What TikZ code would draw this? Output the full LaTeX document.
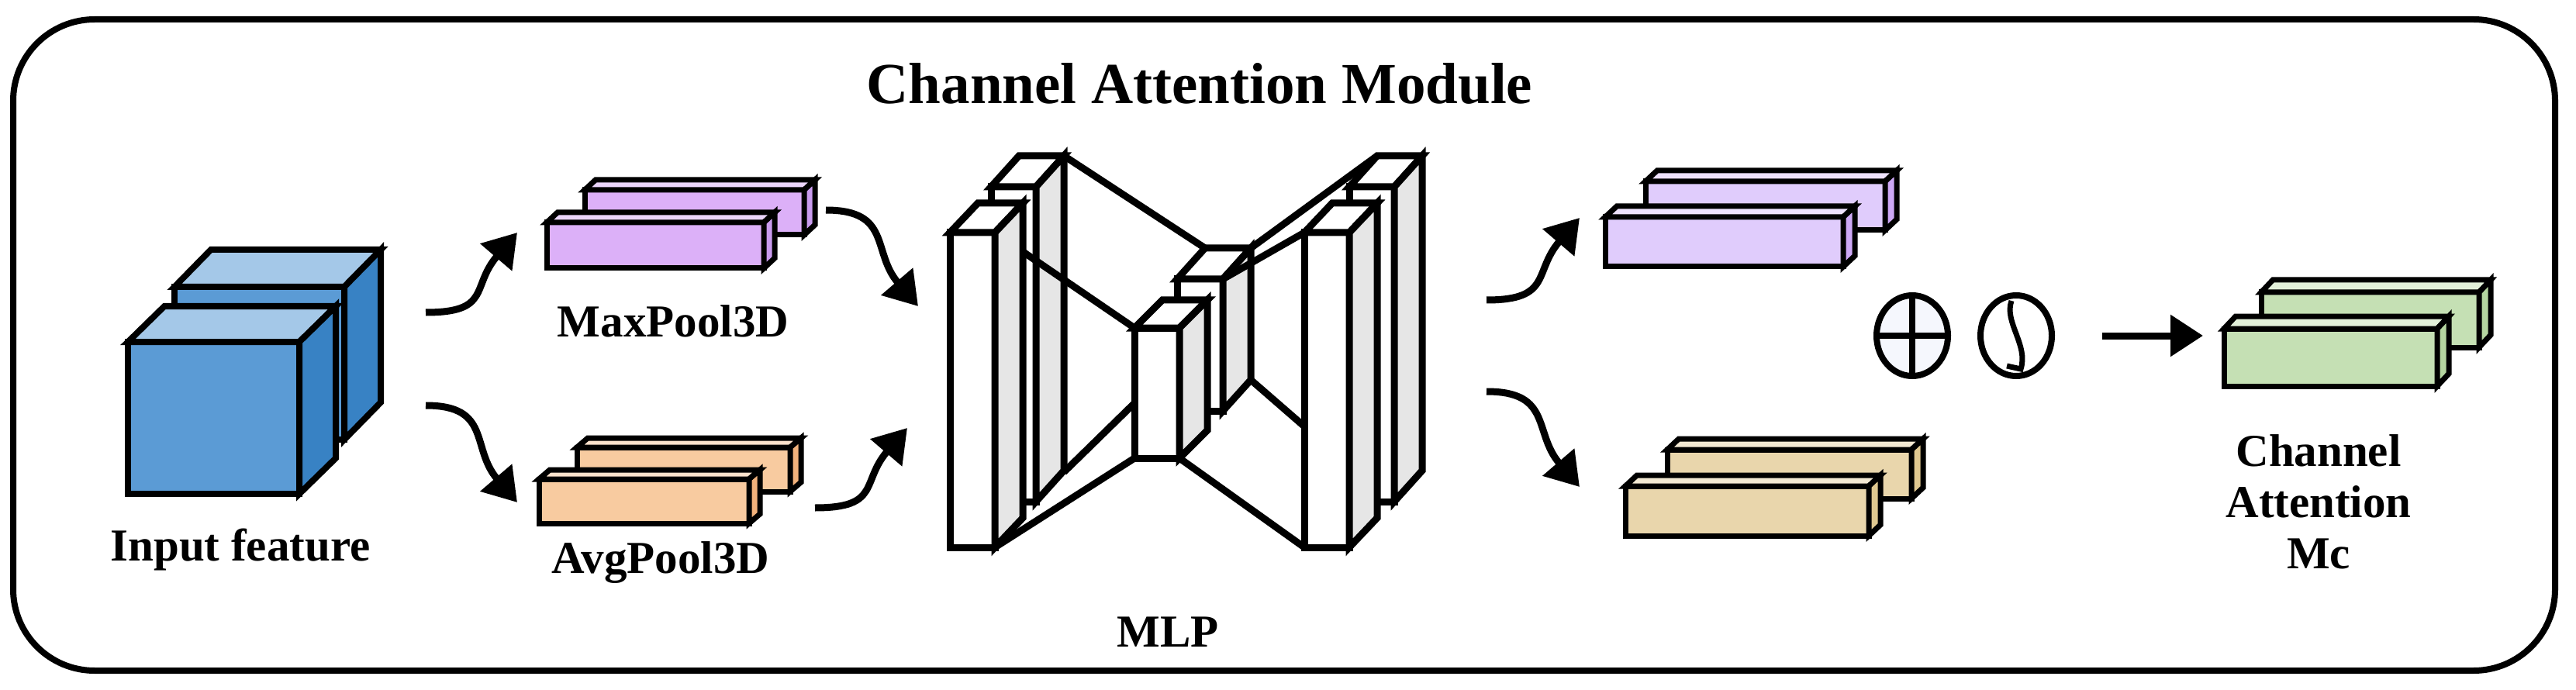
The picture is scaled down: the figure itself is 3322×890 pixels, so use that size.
\documentclass[tikz,border=0pt]{standalone}
\usepackage{fontspec}
\setmainfont{Liberation Serif}
\usetikzlibrary{arrows.meta,shapes.geometric}
\definecolor{cubeF}{HTML}{5B9BD5}\definecolor{cubeT}{HTML}{A4C8E8}\definecolor{cubeS}{HTML}{3882C4}
\definecolor{mxF}{HTML}{DCB0F8}\definecolor{mxT}{HTML}{EBD5FB}\definecolor{mxS}{HTML}{C99BEE}
\definecolor{avF}{HTML}{F8CBA0}\definecolor{avT}{HTML}{FBE2CC}\definecolor{avS}{HTML}{F2B27C}
\definecolor{lpF}{HTML}{E0CCFC}\definecolor{lpT}{HTML}{EEE2FD}\definecolor{lpS}{HTML}{CDA8F5}
\definecolor{tnF}{HTML}{E9D6AC}\definecolor{tnT}{HTML}{F3E9D3}\definecolor{tnS}{HTML}{E0C890}
\definecolor{grF}{HTML}{C5E0B4}\definecolor{grT}{HTML}{E2F0D9}\definecolor{grS}{HTML}{B5D6A0}
\definecolor{slS}{HTML}{E6E6E6}\definecolor{opF}{HTML}{F5F7FD}
% #1 x, #2 y (front top-left), #3 w, #4 h, #5 dx, #6 dy, #7 front, #8 top, #9 side
\newcommand\mybox[9]{%
  \filldraw[fill=#7] (#1,#2) rectangle ({#1+#3},{#2+#4});
  \filldraw[fill=#8] (#1,#2) -- ({#1+#5},{#2-#6}) -- ({#1+#3+#5},{#2-#6}) -- ({#1+#3},#2) -- cycle;
  \filldraw[fill=#9] ({#1+#3},#2) -- ({#1+#3+#5},{#2-#6}) -- ({#1+#3+#5},{#2+#4-#6}) -- ({#1+#3},{#2+#4}) -- cycle;}
\begin{document}
\begin{tikzpicture}[x=1pt,y=-1pt,line join=miter,
  lbl/.style={font=\fontsize{59}{66}\selectfont\bfseries,align=center},
  wav/.style={line width=9pt,-{Triangle[length=42pt,width=52pt]}},
  op/.style={draw,line width=8pt,ellipse,minimum width=92pt,minimum height=104pt,inner sep=0pt}]
\useasboundingbox (0,0) rectangle (3322,890);
\draw[line width=8pt,rounded corners=105pt] (17,25) rectangle (3295,865);
\node[font=\fontsize{75}{85}\selectfont\bfseries] (title) at (1547,108) {Channel Attention Module};
% input cubes
\begin{scope}[line width=8pt]
\mybox{225}{370}{219}{197}{47}{48}{cubeF}{cubeT}{cubeS}
\mybox{165}{441}{221}{196}{47}{46}{cubeF}{cubeT}{cubeS}
\end{scope}
\node[lbl] (inlbl) at (310,709) {Input feature};
% maxpool / avgpool
\begin{scope}[line width=7pt]
\mybox{754}{245}{283}{58}{14}{13}{mxF}{mxT}{mxS}
\mybox{705}{287}{280}{59}{14}{13}{mxF}{mxT}{mxS}
\mybox{744}{577}{275}{57}{14}{12}{avF}{avT}{avS}
\mybox{695}{618}{271}{57}{14}{12}{avF}{avT}{avS}
\end{scope}
\node[lbl] (mxlbl) at (868,414) {MaxPool3D};
\node[lbl] (avlbl) at (852,726) {AvgPool3D};
% MLP
\begin{scope}[line width=9pt]
\mybox{1278}{241}{58}{406}{36}{40}{white}{white}{slS}
\mybox{1740}{241}{58}{406}{36}{40}{white}{white}{slS}
\mybox{1518}{360}{59}{170}{36}{40}{white}{white}{slS}
\draw (1372,201) -- (1554,320);
\draw (1372,609) -- (1463,520);
\draw (1283,300) -- (1463,423);
\draw (1283,706) -- (1463,591);
\draw (1613,320) -- (1776,201);
\draw (1577,360) -- (1682,300);
\draw (1613,490) -- (1682,550);
\draw (1521,591) -- (1682,706);
\mybox{1225}{300}{58}{406}{36}{38}{white}{white}{slS}
\mybox{1682}{300}{58}{406}{36}{38}{white}{white}{slS}
\mybox{1463}{423}{58}{168}{36}{36}{white}{white}{slS}
\end{scope}
\node[lbl] (mlplbl) at (1506,815) {MLP};
% outputs
\begin{scope}[line width=7pt]
\mybox{2122}{234}{309}{63}{15}{14}{lpF}{lpT}{lpS}
\mybox{2070}{280}{307}{64}{15}{14}{lpF}{lpT}{lpS}
\mybox{2150}{580}{315}{63}{15}{14}{tnF}{tnT}{tnS}
\mybox{2096}{627}{314}{64}{15}{14}{tnF}{tnT}{tnS}
\mybox{2916}{377}{281}{71}{15}{16}{grF}{grT}{grS}
\mybox{2868}{424}{275}{74}{15}{16}{grF}{grT}{grS}
\end{scope}
\node[lbl] (calbl) at (2990,647) {Channel\\Attention\\Mc};
% operators
\node[op,fill=opF] (plus) at (2466,433) {};
\draw[line width=8pt] (plus.north) -- (plus.south) (plus.west) -- (plus.east);
\node[op] (sig) at (2600,433) {};
\draw[line width=7pt] (2594,388) .. controls (2584,415) and (2616,445) .. (2606,476) -- (2588,472);
% arrows
\coordinate (a1s) at (549,403); \coordinate (a1e) at (667,300);
\coordinate (a2s) at (549,523); \coordinate (a2e) at (667,648);
\coordinate (a3s) at (1065,271); \coordinate (a3e) at (1184,395);
\coordinate (a4s) at (1051,655); \coordinate (a4e) at (1170,552);
\coordinate (a5s) at (1917,387); \coordinate (a5e) at (2037,281);
\coordinate (a6s) at (1917,505); \coordinate (a6e) at (2037,628);
\coordinate (a7s) at (2711,433); \coordinate (a7e) at (2841,433);
\foreach \s/\e in {a1s/a1e,a4s/a4e,a5s/a5e}
  \draw[wav] (\s) .. controls +(85,0) and +(-60,70) .. (\e);
\foreach \s/\e in {a2s/a2e,a3s/a3e,a6s/a6e}
  \draw[wav] (\s) .. controls +(85,0) and +(-60,-70) .. (\e);
\draw[wav] (a7s) -- (a7e);
\end{tikzpicture}
\end{document}
